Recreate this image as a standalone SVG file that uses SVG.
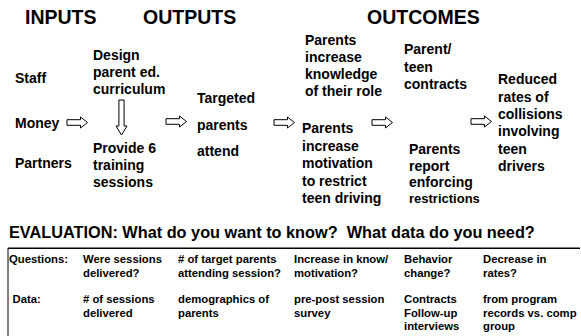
<svg xmlns="http://www.w3.org/2000/svg" xmlns:xlink="http://www.w3.org/1999/xlink" width="581" height="336" viewBox="0 0 581 336">
  <style>
    text { font-family: "Liberation Sans", Arial, sans-serif; font-weight: bold; fill: #000; }
    .head { font-size: 19.5px; }
    .body { font-size: 14px; }
    .small { font-size: 13px; }
    .eval { font-size: 16.3px; white-space: pre; }
    .cell { font-size: 11.3px; }
    .arrow { fill: #fff; stroke: #000; stroke-width: 1; stroke-linejoin: miter; }
    .rule { stroke: #000; fill: none; }
  </style>
  <defs>
    <!-- hollow block arrow pointing right, origin at the tail centre -->
    <path id="arrowRight" class="arrow" d="M0,-2.8 H13.5 V-5.5 L20.5,0 L13.5,5.5 V2.8 H0 Z"/>
    <!-- hollow block arrow pointing down, origin at the tail centre -->
    <path id="arrowDown" class="arrow" d="M-2.6,0 V26 H-5.5 L0,35 L5.5,26 H2.6 V0 Z"/>
  </defs>

  <rect width="581" height="336" fill="#fff"/>

  <!-- column headings -->
  <g id="headings">
    <text class="head" x="25" y="24">INPUTS</text>
    <text class="head" x="143" y="24">OUTPUTS</text>
    <text class="head" x="367" y="23.5">OUTCOMES</text>
  </g>

  <!-- inputs -->
  <g id="inputs">
    <text class="body" x="15" y="83">Staff</text>
    <text class="body" x="15" y="128">Money</text>
    <text class="body" x="15" y="168">Partners</text>
  </g>

  <g id="design-curriculum">
    <text class="body" x="93" y="60">Design</text>
    <text class="body" x="93" y="77">parent ed.</text>
    <text class="body" x="93" y="94">curriculum</text>
  </g>

  <g id="training-sessions">
    <text class="body" x="93" y="153">Provide 6</text>
    <text class="body" x="93" y="170">training</text>
    <text class="body" x="93" y="187">sessions</text>
  </g>

  <g id="parents-attend">
    <text class="body" x="197" y="103">Targeted</text>
    <text class="body" x="197" y="129.5">parents</text>
    <text class="body" x="197" y="156">attend</text>
  </g>

  <g id="knowledge">
    <text class="body" x="305" y="45">Parents</text>
    <text class="body" x="305" y="62">increase</text>
    <text class="body" x="305" y="79">knowledge</text>
    <text class="body" x="305" y="96">of their role</text>
  </g>

  <g id="motivation">
    <text class="body" x="302" y="133">Parents</text>
    <text class="body" x="302" y="150.5">increase</text>
    <text class="body" x="302" y="168">motivation</text>
    <text class="body" x="302" y="185.5">to restrict</text>
    <text class="body" x="302" y="203">teen driving</text>
  </g>

  <g id="contracts">
    <text class="body" x="404" y="54">Parent/</text>
    <text class="body" x="404" y="71.5">teen</text>
    <text class="body" x="404" y="89">contracts</text>
  </g>

  <g id="enforcing">
    <text class="body" x="409" y="154">Parents</text>
    <text class="body" x="409" y="171">report</text>
    <text class="body" x="409" y="187">enforcing</text>
    <text class="small" x="409" y="203">restrictions</text>
  </g>

  <g id="reduced-collisions">
    <text class="body" x="498" y="84">Reduced</text>
    <text class="body" x="498" y="101.5">rates of</text>
    <text class="body" x="498" y="119">collisions</text>
    <text class="body" x="498" y="136">involving</text>
    <text class="body" x="498" y="153.5">teen</text>
    <text class="body" x="498" y="171">drivers</text>
  </g>

  <!-- connectors -->
  <g id="connectors">
    <use xlink:href="#arrowRight" href="#arrowRight" transform="translate(67,122.5)"/>
    <use xlink:href="#arrowDown" href="#arrowDown" transform="translate(121.5,100)"/>
    <use xlink:href="#arrowRight" href="#arrowRight" transform="translate(166,121.5)"/>
    <use xlink:href="#arrowRight" href="#arrowRight" transform="translate(274,122.5)"/>
    <use xlink:href="#arrowRight" href="#arrowRight" transform="translate(372,122.5)"/>
    <use xlink:href="#arrowRight" href="#arrowRight" transform="translate(471,121.5)"/>
  </g>

  <!-- evaluation table -->
  <g id="evaluation">
    <text class="eval" x="9" y="238">EVALUATION: What do you want to know?  What data do you need?</text>
    <line class="rule" x1="8" y1="248.3" x2="580" y2="248.3" stroke-width="1.5"/>
    <line class="rule" x1="8" y1="248" x2="8" y2="336" stroke-width="1"/>

    <text class="cell" x="9" y="263">Questions:</text>
    <text class="cell" x="83" y="263">Were sessions</text>
    <text class="cell" x="83" y="276.5">delivered?</text>
    <text class="cell" x="178" y="263"># of target parents</text>
    <text class="cell" x="178" y="276.5">attending session?</text>
    <text class="cell" x="294" y="263">Increase in know/</text>
    <text class="cell" x="294" y="276.5">motivation?</text>
    <text class="cell" x="404" y="263">Behavior</text>
    <text class="cell" x="404" y="276.5">change?</text>
    <text class="cell" x="483" y="263">Decrease in</text>
    <text class="cell" x="483" y="276.5">rates?</text>

    <text class="cell" x="12.5" y="303">Data:</text>
    <text class="cell" x="83" y="303"># of sessions</text>
    <text class="cell" x="83" y="316.5">delivered</text>
    <text class="cell" x="178" y="303">demographics of</text>
    <text class="cell" x="178" y="316.5">parents</text>
    <text class="cell" x="294" y="303">pre-post session</text>
    <text class="cell" x="294" y="316.5">survey</text>
    <text class="cell" x="404" y="303">Contracts</text>
    <text class="cell" x="404" y="316.5">Follow-up</text>
    <text class="cell" x="404" y="330">interviews</text>
    <text class="cell" x="483" y="303">from program</text>
    <text class="cell" x="483" y="316.5">records vs. comp</text>
    <text class="cell" x="483" y="330">group</text>
  </g>
</svg>
